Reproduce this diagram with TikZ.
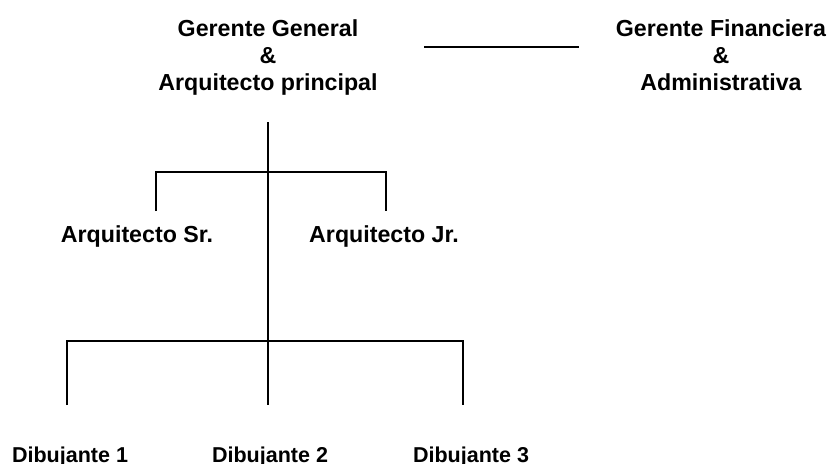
\documentclass[tikz,border=0pt]{standalone}
\usepackage{fontspec}
\setmainfont{Liberation Sans}
\usetikzlibrary{positioning}

\begin{document}
\begin{tikzpicture}[
    x=0.025cm, y=-0.025cm,
    font=\fontsize{16.5}{19.2}\selectfont\bfseries,
    role/.style={align=center, inner sep=0pt},
    drafter/.style={role, anchor=base, font=\fontsize{15.3}{18}\selectfont\bfseries},
    link/.style={line width=1.3pt}
]
\useasboundingbox (0,0) rectangle (830,463);
% top level
\node[role] (gg) at (268,57.5) {Gerente General\\\&\\Arquitecto principal};
\node[role] (gf) at (721,55) {Gerente Financiera\\\&\\Administrativa};
% second level
\node[role, anchor=base] (asr) at (137,242) {Arquitecto Sr.};
\node[role, anchor=base] (ajr) at (384,242) {Arquitecto Jr.};
% third level
\node[drafter] (d1) at (70,462) {Dibujante 1};
\node[drafter] (d2) at (270,462) {Dibujante 2};
\node[drafter] (d3) at (471,462) {Dibujante 3};
% line ends
\coordinate (lk1) at (424,47);
\coordinate (lk2) at (579,47);
\coordinate (top) at (268,122);
\coordinate (bot) at (268,405);
\coordinate (sr-in) at (156,211);
\coordinate (jr-in) at (386,211);
\coordinate (d1-in) at (67,405);
\coordinate (d3-in) at (463,405);
\draw[link] (lk1) -- (lk2);
\draw[link] (top) -- (bot);
\draw[link] (sr-in) |- (268,172) -| (jr-in);
\draw[link] (d1-in) |- (268,341) -| (d3-in);
\end{tikzpicture}
\end{document}
